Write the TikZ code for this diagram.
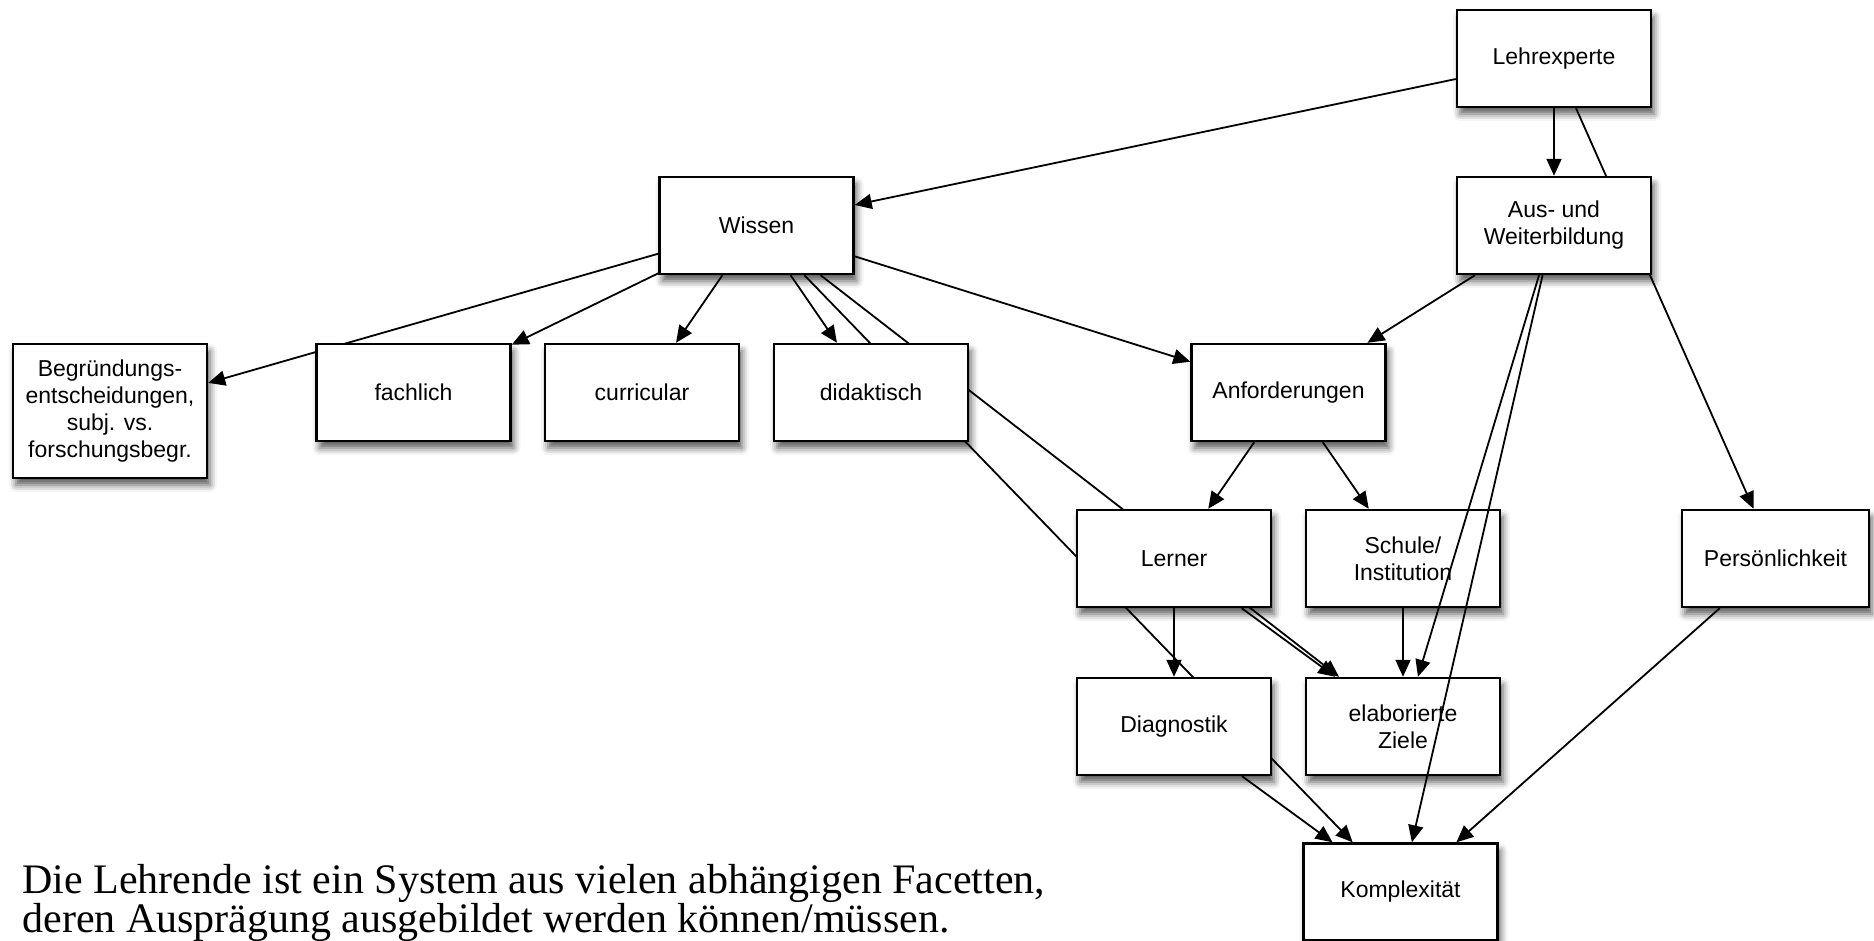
\documentclass[tikz,border=0pt]{standalone}
\usepackage{fontspec}
\newfontfamily\boxfont{Liberation Sans}
\newfontfamily\notefont{Liberation Serif}
\usetikzlibrary{arrows.meta,shadows.blur}
\pgfdeclarelayer{background}
\pgfsetlayers{background,main}

\begin{document}
\begin{tikzpicture}[x=0.5pt,y=-0.5pt,
  facet/.style={draw=black, line width=1.2pt, fill=white,
    minimum width=97pt, minimum height=48.5pt, inner sep=2pt, align=center,
    font=\boxfont\fontsize{11.5pt}{13.5pt}\selectfont,
    blur shadow={shadow xshift=1.5pt, shadow yshift=-3.5pt,
      shadow blur radius=3.5pt, shadow opacity=65}},
  link/.style={line width=0.9pt, -{Triangle[length=8.5pt,width=7.5pt]}},
  note/.style={anchor=base west, inner sep=0pt,
    font=\notefont\fontsize{21pt}{21pt}\selectfont}]

\useasboundingbox (0,0) rectangle (1874,941);
\clip (0,0) rectangle (1874,941);

% facets of the teacher
\node[facet] (lehr)   at (1554,58.5)  {Lehrexperte};
\node[facet] (aus)    at (1554,225.5) {Aus- und\\Weiterbildung};
\node[facet] (wissen) at (756.5,225.5) {Wissen};
\node[facet, minimum height=67pt] (begr) at (110,411)
  {Begründungs-\\entscheidungen,\\subj. vs.\\forschungsbegr.};
\node[facet] (fach)   at (413.5,392.5) {fachlich};
\node[facet] (curr)   at (642,392.5)   {curricular};
\node[facet] (didak)  at (871,392.5)   {didaktisch};
\node[facet] (anf)    at (1288.5,392.5) {Anforderungen};
\node[facet] (lerner) at (1174,558.5)  {Lerner};
\node[facet] (schule) at (1403,558.5)  {Schule/\\Institution};
\node[facet, minimum width=93.5pt] (pers) at (1775.5,558.5) {Persönlichkeit};
\node[facet] (diag)   at (1174,726.5)  {Diagnostik};
\node[facet] (ziele)  at (1403,726.5)  {elaborierte\\Ziele};
\node[facet] (kompl)  at (1400.5,892)  {Komplexität};

% connectors running behind the boxes
\begin{pgfonlayer}{background}
  \draw[link] (lehr) -- (wissen);
  \draw[link] (lehr) -- (aus);
  \draw[link] (lehr) -- (pers);
  \draw[link] (aus) -- (anf);
  \draw[link] (wissen) -- (begr);
  \draw[link] (wissen) -- (fach);
  \draw[link] (wissen) -- (curr);
  \draw[link] (wissen) -- (didak);
  \draw[link] (wissen) -- (anf);
  \draw[link] (wissen) -- (kompl);
  \draw[link] (wissen) -- (ziele);
  \draw[link] (anf) -- (lerner);
  \draw[link] (anf) -- (schule);
  \draw[link] (lerner) -- (diag);
  \draw[link] (lerner) -- (ziele);
  \draw[link] (schule) -- (ziele);
  \draw[link] (diag) -- (kompl);
  \draw[link] (pers) -- (kompl);
\end{pgfonlayer}

% connectors crossing over the boxes
\draw[link] (aus) -- (ziele);
\draw[link] (aus) -- (kompl);

% caption
\node[note] (cap1) at (22,893) {Die Lehrende ist ein System aus vielen abhängigen Facetten,};
\node[note] (cap2) at (22,932) {deren Ausprägung ausgebildet werden können/müssen.};

\end{tikzpicture}
\end{document}
